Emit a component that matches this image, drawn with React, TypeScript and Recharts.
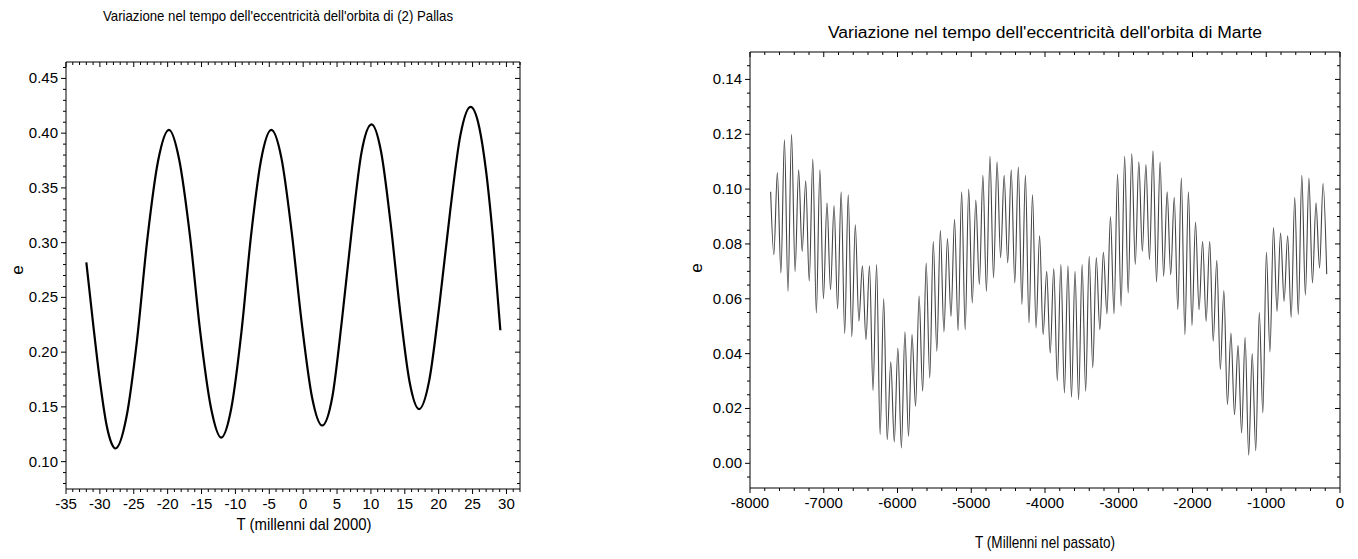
import React from "react";
import { LineChart, Line, XAxis, YAxis } from "recharts";

// (2) Pallas: eccentricity vs time (millennia from 2000)
const pallasT = [
  -32.0, -31.0, -30.0, -29.0, -28.3, -27.7, -26.1, -24.5, -23.0, -21.4, -19.8, -18.3, -16.7, -15.2, -13.6,
  -12.1, -10.6, -9.1, -7.7, -6.2, -4.7, -3.2, -1.7, -0.2, 1.3, 2.8, 4.3, 5.7, 7.2, 8.6, 10.1, 11.5, 12.9,
  14.3, 15.7, 17.1, 18.6, 20.1, 21.7, 23.2, 24.7, 26.0, 27.0, 28.0, 29.1,
];
const pallasE = [
  0.282, 0.226, 0.174, 0.133, 0.117, 0.112, 0.140, 0.212, 0.303, 0.375, 0.403, 0.376, 0.306, 0.219, 0.149,
  0.122, 0.149, 0.219, 0.306, 0.376, 0.403, 0.377, 0.310, 0.226, 0.159, 0.133, 0.159, 0.228, 0.313, 0.382,
  0.408, 0.383, 0.318, 0.238, 0.173, 0.148, 0.174, 0.243, 0.329, 0.398, 0.424, 0.405, 0.365, 0.305, 0.220,
];

// Mars: successive maxima and minima of the short oscillation
const marsStart = { t: -7720, e: 0.099 };
const marsEnd = { t: -180, e: 0.069 };
const marsFirstPeak = -7629;
const marsPeriod = 96.1;
const marsPeaks = [
  0.106, 0.118, 0.120, 0.107, 0.103, 0.111, 0.107, 0.095, 0.094, 0.099, 0.098, 0.087,
  0.072, 0.072, 0.0725, 0.060, 0.037, 0.042, 0.048, 0.047, 0.061, 0.073, 0.081, 0.085, 0.082, 0.089, 0.099, 0.100,
  0.096, 0.105, 0.112, 0.110, 0.105, 0.107, 0.108, 0.105, 0.098, 0.083, 0.070, 0.071, 0.0725, 0.072, 0.070, 0.0725,
  0.0755, 0.075, 0.077, 0.090, 0.1055, 0.112, 0.113, 0.110, 0.109, 0.114, 0.110, 0.099, 0.097, 0.104, 0.099,
  0.088, 0.081, 0.081, 0.074, 0.063, 0.0475, 0.043, 0.046, 0.040, 0.055, 0.077, 0.086, 0.084, 0.083, 0.097,
  0.105, 0.104, 0.095, 0.102,
];
// marsTroughs[0] comes before the first peak, marsTroughs[k] after peak k
const marsTroughs = [
  0.0761, 0.0694, 0.0627, 0.070, 0.0773, 0.0664, 0.0548, 0.060, 0.0633, 0.0563, 0.0473, 0.0461,
  0.0518, 0.0451, 0.0265, 0.0105, 0.0086, 0.0078, 0.0056, 0.0098, 0.0208, 0.0263, 0.0311, 0.0408, 0.0479, 0.0536,
  0.0484, 0.0487,
  0.0585, 0.0652, 0.0627, 0.0676, 0.075, 0.0731, 0.0658, 0.0579, 0.0512, 0.0494, 0.0469, 0.0402, 0.0301, 0.0257,
  0.0241, 0.0232,
  0.0263, 0.0348, 0.0487, 0.0545, 0.0545, 0.0573, 0.0621, 0.0725, 0.0773, 0.0743, 0.0661, 0.0682, 0.0688, 0.056,
  0.0469, 0.0503,
  0.056, 0.0518, 0.0445, 0.0342, 0.0214, 0.0177, 0.0111, 0.003, 0.0046, 0.0184, 0.0406, 0.0554, 0.0591, 0.0532,
  0.0542, 0.0613, 0.0658, 0.0712,
];

// axis ticks
const pallasXMajor = [-35, -30, -25, -20, -15, -10, -5, 0, 5, 10, 15, 20, 25, 30];
const pallasYMajor = [0.1, 0.15, 0.2, 0.25, 0.3, 0.35, 0.4, 0.45];
const marsXMajor = [-8000, -7000, -6000, -5000, -4000, -3000, -2000, -1000, 0];
const marsYMajor = [0, 0.02, 0.04, 0.06, 0.08, 0.1, 0.12, 0.14];

const steps = (from: number, to: number, step: number) => {
  const out: number[] = [];
  const n = Math.round((to - from) / step);
  for (let i = 0; i <= n; i++) out.push(+(from + i * step).toFixed(6));
  return out;
};

const pallasData = pallasT.map((t, i) => ({ t, e: pallasE[i] }));

const marsData: { t: number; e: number }[] = [marsStart, { t: marsFirstPeak - 48, e: marsTroughs[0] }];
marsPeaks.forEach((e, k) => {
  const tp = marsFirstPeak + k * marsPeriod;
  marsData.push({ t: +tp.toFixed(1), e });
  if (k + 1 < marsTroughs.length) marsData.push({ t: +(tp + 48).toFixed(1), e: marsTroughs[k + 1] });
});
marsData.push(marsEnd);

const FONT = '"Liberation Sans", Arial, sans-serif';

type Side = "bottom" | "top" | "left" | "right";

function tickFactory(side: Side, majors: number[], fmt?: (v: number) => string) {
  return function AxisTick(props: any) {
    const { x, y, payload } = props;
    const v = payload.value as number;
    const major = majors.some((m) => Math.abs(m - v) < 1e-9);
    const len = major ? 5 : 3;
    let x2 = x;
    let y2 = y;
    if (side === "bottom" || side === "top") y2 = y + len;
    else x2 = x - len;
    return (
      <g>
        <line x1={x} y1={y} x2={x2} y2={y2} stroke="#000" strokeWidth={1} />
        {major && fmt && side === "bottom" && (
          <text x={x} y={y + 20} textAnchor="middle" fontSize={15} fontFamily={FONT} fill="#000">
            {fmt(v)}
          </text>
        )}
        {major && fmt && side === "left" && (
          <text x={x - 8} y={y + 5} textAnchor="end" fontSize={15} fontFamily={FONT} fill="#000">
            {fmt(v)}
          </text>
        )}
      </g>
    );
  };
}

interface PanelProps {
  data: { t: number; e: number }[];
  xDomain: [number, number];
  yDomain: [number, number];
  xMajor: number[];
  xMinor: number[];
  yMajor: number[];
  yMinor: number[];
  xFmt: (v: number) => string;
  yFmt: (v: number) => string;
  margin: { top: number; right: number; bottom: number; left: number };
  stroke: string;
  strokeWidth: number;
  curve: "monotone" | "linear";
}

function Panel(p: PanelProps) {
  const axisLine = { stroke: "#000", strokeWidth: 1 };
  return (
    <LineChart width={679} height={559} data={p.data} margin={p.margin}>
      <XAxis
        xAxisId="b"
        dataKey="t"
        type="number"
        domain={p.xDomain}
        allowDataOverflow
        ticks={p.xMinor}
        interval={0}
        height={30}
        tickSize={0}
        tickMargin={0}
        tickLine={false}
        axisLine={axisLine}
        tick={tickFactory("bottom", p.xMajor, p.xFmt)}
      />
      <XAxis
        xAxisId="t"
        orientation="top"
        dataKey="t"
        type="number"
        domain={p.xDomain}
        allowDataOverflow
        ticks={p.xMinor}
        interval={0}
        height={1}
        tickSize={0}
        tickMargin={0}
        tickLine={false}
        axisLine={axisLine}
        tick={tickFactory("top", p.xMajor)}
      />
      <YAxis
        yAxisId="l"
        type="number"
        domain={p.yDomain}
        allowDataOverflow
        ticks={p.yMinor}
        interval={0}
        width={60}
        tickSize={0}
        tickMargin={0}
        tickLine={false}
        axisLine={axisLine}
        tick={tickFactory("left", p.yMajor, p.yFmt)}
      />
      <YAxis
        yAxisId="r"
        orientation="right"
        type="number"
        domain={p.yDomain}
        allowDataOverflow
        ticks={p.yMinor}
        interval={0}
        width={1}
        tickSize={0}
        tickMargin={0}
        tickLine={false}
        axisLine={axisLine}
        tick={tickFactory("right", p.yMajor)}
      />
      <Line
        xAxisId="b"
        yAxisId="l"
        type={p.curve}
        dataKey="e"
        stroke={p.stroke}
        strokeWidth={p.strokeWidth}
        dot={false}
        activeDot={false}
        isAnimationActive={false}
      />
    </LineChart>
  );
}

export default function App() {
  const txt = { fontFamily: FONT, fill: "#000" };
  return (
    <div style={{ position: "absolute", left: 0, top: 0, width: 1358, height: 559, background: "#fff" }}>
      <div style={{ position: "absolute", left: 0, top: 0 }}>
        <Panel
          data={pallasData}
          xDomain={[-35, 32]}
          yDomain={[0.075, 0.465]}
          xMajor={pallasXMajor}
          xMinor={steps(-35, 32, 1)}
          yMajor={pallasYMajor}
          yMinor={steps(0.08, 0.46, 0.01)}
          xFmt={(v) => String(v)}
          yFmt={(v) => v.toFixed(2)}
          margin={{ top: 61, right: 158, bottom: 40, left: 6 }}
          stroke="#000"
          strokeWidth={2.2}
          curve="monotone"
        />
      </div>
      <div style={{ position: "absolute", left: 679, top: 0 }}>
        <Panel
          data={marsData}
          xDomain={[-8000, 0]}
          yDomain={[-0.009, 0.15]}
          xMajor={marsXMajor}
          xMinor={steps(-8000, 0, 200)}
          yMajor={marsYMajor}
          yMinor={steps(-0.005, 0.145, 0.005)}
          xFmt={(v) => String(v)}
          yFmt={(v) => v.toFixed(2)}
          margin={{ top: 51, right: 17, bottom: 41, left: 11 }}
          stroke="#444"
          strokeWidth={1.1}
          curve="monotone"
        />
      </div>
      <svg width={1358} height={559} style={{ position: "absolute", left: 0, top: 0, pointerEvents: "none" }}>
        <text x={278} y={21} textAnchor="middle" fontSize={15} textLength={350} lengthAdjust="spacingAndGlyphs" {...txt}>
          Variazione nel tempo dell'eccentricità dell'orbita di (2) Pallas
        </text>
        <text x={1045} y={38} textAnchor="middle" fontSize={16} textLength={434} lengthAdjust="spacingAndGlyphs" {...txt}>
          Variazione nel tempo dell'eccentricità dell'orbita di Marte
        </text>
        <text x={304} y={530} textAnchor="middle" fontSize={17} textLength={135} lengthAdjust="spacingAndGlyphs" {...txt}>
          T (millenni dal 2000)
        </text>
        <text x={1045} y={548} textAnchor="middle" fontSize={17} textLength={140} lengthAdjust="spacingAndGlyphs" {...txt}>
          T (Millenni nel passato)
        </text>
        <text x={0} y={0} transform="translate(23 270) rotate(-90)" textAnchor="middle" fontSize={17} {...txt}>
          e
        </text>
        <text x={0} y={0} transform="translate(702 268) rotate(-90)" textAnchor="middle" fontSize={17} {...txt}>
          e
        </text>
      </svg>
    </div>
  );
}
